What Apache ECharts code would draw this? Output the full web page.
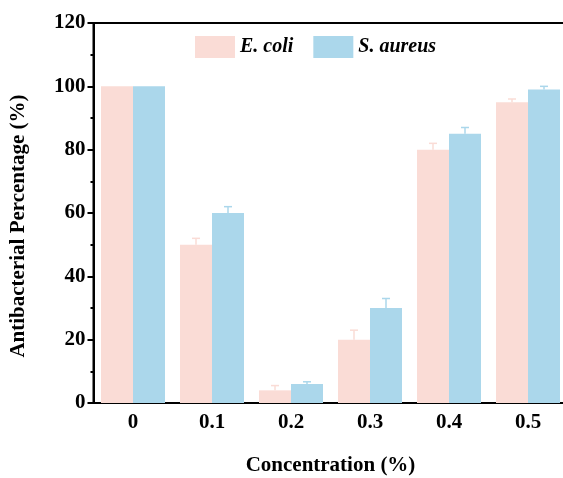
<!DOCTYPE html>
<html>
<head>
<meta charset="utf-8">
<script src="https://cdn.jsdelivr.net/npm/echarts@6/dist/echarts.min.js"></script>
<style>
  html, body { margin: 0; padding: 0; background: #fff; }
  #main { width: 563px; height: 478px; }
</style>
</head>
<body>
<div id="main"></div>
<script>
// data
const concentrations = ['0', '0.1', '0.2', '0.3', '0.4', '0.5'];
const ecoli = [100, 50, 4, 20, 80, 95];
const ecoliErr = [0, 2, 1.5, 3, 2, 1];
const saureus = [100, 60, 6, 30, 85, 99];
const saureusErr = [0, 2, 0.7, 3, 2, 1];

const PINK = '#FADCD6';
const BLUE = '#ABD7EB';
const BAR_W = 32;
const FONT = '"Liberation Serif", "Times New Roman", serif';

function errorBar(color, shift) {
  return function (params, api) {
    if (!api.value(2)) return null;
    const x = api.value(0);
    const top = api.coord([x, api.value(1) + api.value(2)]);
    const base = api.coord([x, api.value(1)]);
    const cx = base[0] + shift;
    return {
      type: 'group',
      children: [
        { type: 'line', shape: { x1: cx, y1: base[1], x2: cx, y2: top[1] },
          style: { stroke: color, lineWidth: 1.5 } },
        { type: 'line', shape: { x1: cx - 4, y1: top[1], x2: cx + 4, y2: top[1] },
          style: { stroke: color, lineWidth: 1.5 } }
      ]
    };
  };
}

const chart = echarts.init(document.getElementById('main'));

chart.setOption({
  animation: false,
  textStyle: { fontFamily: FONT },
  legend: {
    top: 31,
    left: 190,
    itemWidth: 40,
    itemHeight: 22,
    itemGap: 20,
    icon: 'rect',
    data: ['E. coli', 'S. aureus'],
    textStyle: { fontFamily: FONT, fontSize: 20, fontWeight: 'bold', fontStyle: 'italic', color: '#000' }
  },
  grid: {
    left: 93.5, right: -4.5, top: 23, bottom: 75,
    outerBoundsMode: 'none',
    show: true, borderColor: '#000', borderWidth: 2
  },
  xAxis: [
    {
      type: 'category',
      data: concentrations,
      name: 'Concentration (%)',
      nameLocation: 'middle',
      nameGap: 52,
      nameTextStyle: { fontFamily: FONT, fontSize: 21, fontWeight: 'bold', color: '#000' },
      axisLine: { lineStyle: { color: '#000', width: 2 } },
      axisTick: { alignWithLabel: true, length: 6, lineStyle: { color: '#000', width: 2 } },
      axisLabel: { fontFamily: FONT, fontSize: 21, fontWeight: 'bold', color: '#000', margin: 9 }
    },
    {
      type: 'category',
      data: concentrations,
      position: 'bottom',
      axisLine: { show: false },
      axisTick: { length: 3, lineStyle: { color: '#000', width: 2 } },
      axisLabel: { show: false }
    }
  ],
  yAxis: {
    type: 'value',
    min: 0, max: 120, interval: 20,
    name: 'Antibacterial Percentage (%)',
    nameLocation: 'middle',
    nameGap: 64,
    nameTextStyle: { fontFamily: FONT, fontSize: 21, fontWeight: 'bold', color: '#000', padding: [0, 26, 0, 0] },
    axisLine: { show: true, lineStyle: { color: '#000', width: 2 } },
    axisTick: { show: true, length: 6, lineStyle: { color: '#000', width: 2 } },
    minorTick: { show: true, splitNumber: 2, length: 3, lineStyle: { color: '#000', width: 2 } },
    splitLine: { show: false },
    axisLabel: { fontFamily: FONT, fontSize: 21, fontWeight: 'bold', color: '#000', margin: 8 }
  },
  series: [
    {
      name: 'E. coli', type: 'bar', data: ecoli,
      barWidth: BAR_W, barGap: '0%',
      itemStyle: { color: PINK }
    },
    {
      name: 'S. aureus', type: 'bar', data: saureus,
      barWidth: BAR_W, barGap: '0%',
      itemStyle: { color: BLUE }
    },
    {
      type: 'custom', name: 'E. coli err', z: 3,
      renderItem: errorBar(PINK, -BAR_W / 2),
      data: ecoli.map((v, i) => [i, v, ecoliErr[i]])
    },
    {
      type: 'custom', name: 'S. aureus err', z: 3,
      renderItem: errorBar(BLUE, BAR_W / 2),
      data: saureus.map((v, i) => [i, v, saureusErr[i]])
    }
  ]
});
</script>
</body>
</html>
